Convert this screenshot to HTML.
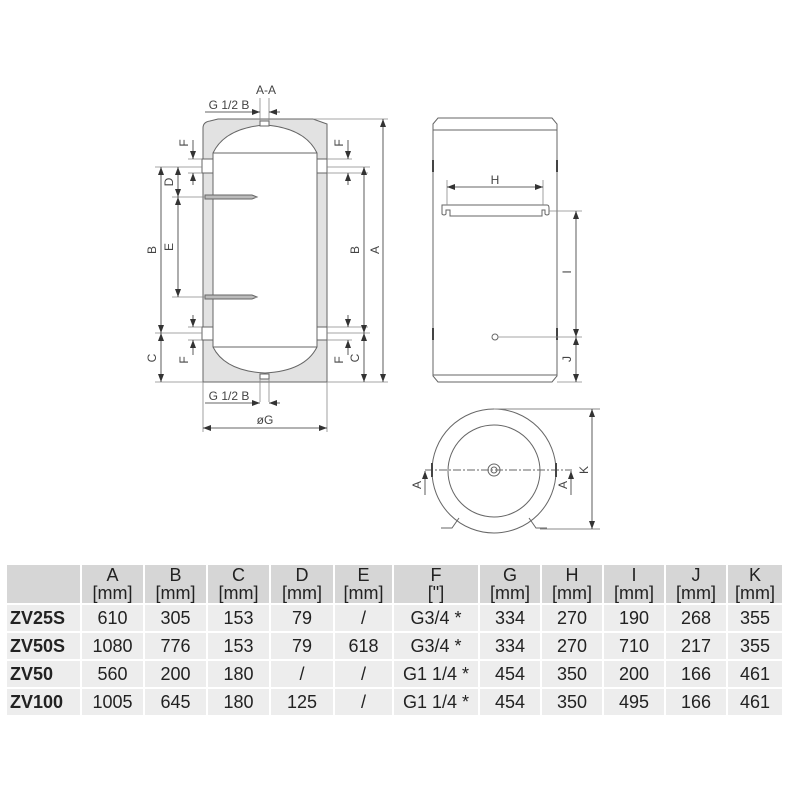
<!DOCTYPE html>
<html><head><style>
body{margin:0;background:#fff;width:800px;height:800px;overflow:hidden;font-family:"Liberation Sans",sans-serif}
svg{position:absolute;left:0;top:0}
table{position:absolute;left:5px;top:563px;border-collapse:separate;border-spacing:2px 2px;font-family:"Liberation Sans",sans-serif;font-size:18px;color:#222}
td{text-align:center;padding:0;background:#ededed}
tr.h td{background:#d6d6d6;height:38px;line-height:18px;font-size:18px}
tr.d td{height:26px}
td.n{text-align:left;font-weight:bold;padding-left:3px}
</style></head><body>
<svg width="800" height="560" viewBox="0 0 800 560">
<defs><marker id="a" markerWidth="8" markerHeight="6" refX="8" refY="3" orient="auto" markerUnits="userSpaceOnUse"><path d="M0,0L8,3L0,6z" fill="#333"/></marker>
<marker id="b" markerWidth="8" markerHeight="6" refX="0" refY="3" orient="auto" markerUnits="userSpaceOnUse"><path d="M8,0L0,3L8,6z" fill="#333"/></marker></defs>
<g stroke="#666" stroke-width="1" fill="none">
<path d="M203,382 L203,128 Q203,122 210,121 L218,119 L313,119 L327,124 L327,382 Z" fill="#e2e2e2"/>
<path d="M213,153 Q225,128 265,125 Q305,128 317,153 L317,347 Q305,371 265,373 Q225,371 213,347 Z" fill="#fff"/>
<line x1="213" y1="153" x2="317" y2="153"/><line x1="213" y1="347" x2="317" y2="347"/>
<rect x="202" y="159" width="11" height="14" fill="#fff"/><rect x="202" y="327" width="11" height="13" fill="#fff"/>
<rect x="317" y="159" width="10" height="14" fill="#fff"/><rect x="317" y="327" width="10" height="13" fill="#fff"/>
<rect x="260" y="121" width="9" height="5" fill="#fff"/><rect x="260" y="374" width="9" height="5" fill="#fff"/>
<path d="M205,195 L252,195 L257,197 L252,199 L205,199Z" fill="#bbb"/>
<path d="M205,295 L252,295 L257,297 L252,299 L205,299Z" fill="#bbb"/>
<g stroke="#888" stroke-width="0.8">
<line x1="155" y1="167" x2="202" y2="167"/><line x1="155" y1="333" x2="202" y2="333"/><line x1="155" y1="382" x2="203" y2="382"/>
<line x1="172" y1="197" x2="205" y2="197"/><line x1="172" y1="297" x2="205" y2="297"/>
<line x1="188" y1="159" x2="202" y2="159"/><line x1="188" y1="173" x2="202" y2="173"/>
<line x1="188" y1="327" x2="202" y2="327"/><line x1="188" y1="340" x2="202" y2="340"/>
<line x1="327" y1="159" x2="352" y2="159"/><line x1="327" y1="173" x2="368" y2="173"/>
<line x1="327" y1="327" x2="368" y2="327"/><line x1="327" y1="340" x2="352" y2="340"/>
<line x1="327" y1="167" x2="370" y2="167"/><line x1="327" y1="333" x2="370" y2="333"/>
<line x1="313" y1="119" x2="388" y2="119"/><line x1="327" y1="382" x2="388" y2="382"/>
<line x1="203" y1="382" x2="203" y2="432"/><line x1="327" y1="382" x2="327" y2="432"/>
<line x1="260" y1="98" x2="260" y2="121"/><line x1="269" y1="98" x2="269" y2="121"/>
<line x1="260" y1="379" x2="260" y2="402"/><line x1="269" y1="379" x2="269" y2="402"/>
</g>
<g stroke="#333" stroke-width="0.8">
<line x1="161" y1="167" x2="161" y2="333" marker-start="url(#b)" marker-end="url(#a)"/>
<line x1="161" y1="333" x2="161" y2="382" marker-start="url(#b)" marker-end="url(#a)"/>
<line x1="178" y1="167" x2="178" y2="197" marker-start="url(#b)" marker-end="url(#a)"/>
<line x1="178" y1="197" x2="178" y2="297" marker-start="url(#b)" marker-end="url(#a)"/>
<line x1="193" y1="140" x2="193" y2="159" marker-end="url(#a)"/><line x1="193" y1="185" x2="193" y2="173" marker-end="url(#a)"/>
<line x1="193" y1="315" x2="193" y2="327" marker-end="url(#a)"/><line x1="193" y1="355" x2="193" y2="340" marker-end="url(#a)"/>
<line x1="348" y1="140" x2="348" y2="159" marker-end="url(#a)"/><line x1="348" y1="185" x2="348" y2="173" marker-end="url(#a)"/>
<line x1="348" y1="315" x2="348" y2="327" marker-end="url(#a)"/><line x1="348" y1="355" x2="348" y2="340" marker-end="url(#a)"/>
<line x1="364" y1="167" x2="364" y2="333" marker-start="url(#b)" marker-end="url(#a)"/>
<line x1="364" y1="333" x2="364" y2="382" marker-start="url(#b)" marker-end="url(#a)"/>
<line x1="383" y1="119" x2="383" y2="382" marker-start="url(#b)" marker-end="url(#a)"/>
<line x1="203" y1="428" x2="327" y2="428" marker-start="url(#b)" marker-end="url(#a)"/>
<line x1="205" y1="112" x2="260" y2="112" marker-end="url(#a)"/><line x1="280" y1="112" x2="269" y2="112" marker-end="url(#a)"/>
<line x1="205" y1="403" x2="260" y2="403" marker-end="url(#a)"/><line x1="280" y1="403" x2="269" y2="403" marker-end="url(#a)"/>
</g>
<path d="M433,124 L438,118 L552,118 L557,124 L557,376 L552,382 L438,382 L433,376 Z" fill="#fff"/>
<line x1="433" y1="130" x2="557" y2="130"/><line x1="433" y1="375" x2="557" y2="375"/>
<g stroke="#444" stroke-width="2"><line x1="433" y1="160" x2="433" y2="172"/><line x1="557" y1="160" x2="557" y2="172"/><line x1="433" y1="328" x2="433" y2="340"/><line x1="557" y1="328" x2="557" y2="340"/></g>
<path d="M442,205 L547,205 Q549,205 549,208 L549,214 Q547,216 545,214 L545,210 L542,210 L542,216 L450,216 L450,210 L446,210 L446,214 Q444,216 442,214 Z" fill="#fff"/>
<circle cx="495" cy="337" r="3"/>
<g stroke="#888" stroke-width="0.8">
<line x1="447" y1="180" x2="447" y2="205"/><line x1="543" y1="180" x2="543" y2="205"/>
<line x1="549" y1="211" x2="582" y2="211"/><line x1="498" y1="337" x2="582" y2="337"/><line x1="557" y1="382" x2="582" y2="382"/>
</g>
<g stroke="#333" stroke-width="0.8">
<line x1="447" y1="187" x2="543" y2="187" marker-start="url(#b)" marker-end="url(#a)"/>
<line x1="576" y1="211" x2="576" y2="337" marker-start="url(#b)" marker-end="url(#a)"/>
<line x1="576" y1="337" x2="576" y2="382" marker-start="url(#b)" marker-end="url(#a)"/>
</g>
<circle cx="494" cy="471" r="62" fill="#fff"/>
<circle cx="494" cy="471" r="46"/>
<circle cx="494" cy="470" r="6"/><circle cx="494" cy="470" r="3"/>
<line x1="425" y1="470" x2="572" y2="470" stroke-dasharray="8,2,2,2"/>
<g stroke="#444" stroke-width="2"><line x1="432" y1="463" x2="432" y2="477"/><line x1="556" y1="463" x2="556" y2="477"/></g>
<path d="M441,528 L452,528 L459,518 M547,528 L536,528 L529,518"/>
<line x1="494" y1="409" x2="600" y2="409" stroke="#888"/><line x1="540" y1="529" x2="600" y2="529" stroke="#888"/>
<g stroke="#333" stroke-width="0.8">
<line x1="592" y1="409" x2="592" y2="529" marker-start="url(#b)" marker-end="url(#a)"/>
<line x1="425" y1="495" x2="425" y2="471" marker-end="url(#a)"/>
<line x1="571" y1="495" x2="571" y2="471" marker-end="url(#a)"/>
</g>
</g>
<g fill="#444" font-size="12" font-family="Liberation Sans,sans-serif" text-anchor="middle">
<text x="266" y="94">A-A</text>
<text x="229" y="109">G 1/2 B</text>
<text x="229" y="400">G 1/2 B</text>
<text x="265" y="424">øG</text>
<text x="495" y="184">H</text>
<text transform="translate(156,250) rotate(-90)">B</text>
<text transform="translate(156,358) rotate(-90)">C</text>
<text transform="translate(173,182) rotate(-90)">D</text>
<text transform="translate(173,247) rotate(-90)">E</text>
<text transform="translate(188,143) rotate(-90)">F</text>
<text transform="translate(188,360) rotate(-90)">F</text>
<text transform="translate(343,143) rotate(-90)">F</text>
<text transform="translate(343,360) rotate(-90)">F</text>
<text transform="translate(359,250) rotate(-90)">B</text>
<text transform="translate(359,358) rotate(-90)">C</text>
<text transform="translate(379,250) rotate(-90)">A</text>
<text transform="translate(571,272) rotate(-90)">I</text>
<text transform="translate(571,359) rotate(-90)">J</text>
<text transform="translate(588,470) rotate(-90)">K</text>
<text transform="translate(421,485) rotate(-90)">A</text>
<text transform="translate(567,485) rotate(-90)">A</text>
</g>
</svg>
<table>
<tr class="h"><td style="width:73px"></td><td style="width:61px">A<br>[mm]</td><td style="width:61px">B<br>[mm]</td><td style="width:61px">C<br>[mm]</td><td style="width:62px">D<br>[mm]</td><td style="width:57px">E<br>[mm]</td><td style="width:84px">F<br>["]</td><td style="width:60px">G<br>[mm]</td><td style="width:60px">H<br>[mm]</td><td style="width:60px">I<br>[mm]</td><td style="width:60px">J<br>[mm]</td><td style="width:54px">K<br>[mm]</td></tr>
<tr class="d"><td class="n">ZV25S</td><td>610</td><td>305</td><td>153</td><td>79</td><td>/</td><td>G3/4 *</td><td>334</td><td>270</td><td>190</td><td>268</td><td>355</td></tr>
<tr class="d"><td class="n">ZV50S</td><td>1080</td><td>776</td><td>153</td><td>79</td><td>618</td><td>G3/4 *</td><td>334</td><td>270</td><td>710</td><td>217</td><td>355</td></tr>
<tr class="d"><td class="n">ZV50</td><td>560</td><td>200</td><td>180</td><td>/</td><td>/</td><td>G1 1/4 *</td><td>454</td><td>350</td><td>200</td><td>166</td><td>461</td></tr>
<tr class="d"><td class="n">ZV100</td><td>1005</td><td>645</td><td>180</td><td>125</td><td>/</td><td>G1 1/4 *</td><td>454</td><td>350</td><td>495</td><td>166</td><td>461</td></tr>
</table>
</body></html>
